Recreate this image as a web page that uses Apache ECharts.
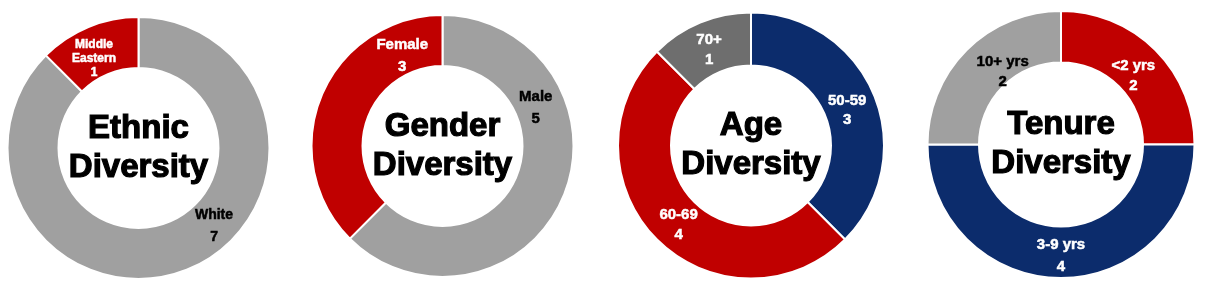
<!DOCTYPE html>
<html>
<head>
<meta charset="utf-8">
<script src="https://cdn.jsdelivr.net/npm/echarts@6/dist/echarts.min.js"></script>
<style>
html,body{margin:0;padding:0;background:#fff;}
#chart{width:1206px;height:285px;}
</style>
</head>
<body>
<div id="chart"></div>
<script>
// ---- data ----
const ethnicCategories = ['White', 'Middle Eastern'];
const ethnicValues = [7, 1];
const genderCategories = ['Male', 'Female'];
const genderValues = [5, 3];
const ageCategories = ['50-59', '60-69', '70+'];
const ageValues = [3, 4, 1];
const tenureCategories = ['<2 yrs', '3-9 yrs', '10+ yrs'];
const tenureValues = [2, 4, 2];
const chartTitles = ['Ethnic\nDiversity', 'Gender\nDiversity', 'Age\nDiversity', 'Tenure\nDiversity'];

// ---- styles ----
const RED = '#C00000', GREY = '#A0A0A0', DARK = '#6E6E6E', BLUE = '#0C2C6C';
const FONT = '"Liberation Sans", Arial, sans-serif';

const charts = [
  { cats: ethnicCategories, vals: ethnicValues, center: [138.5, 148], radius: [80, 131],
    colors: [GREY, RED], textColors: ['#000', '#fff'], offsets: [[34, -22], [-3, 11]],
    fontSizes: [14, 12], lineHeights: [22, 14] },
  { cats: genderCategories, vals: genderValues, center: [442.5, 146], radius: [80, 131],
    colors: [GREY, RED], textColors: ['#000', '#fff'], offsets: [[-7, -80], [60, -49]],
    fontSizes: [15, 15], lineHeights: [22, 22] },
  { cats: ageCategories, vals: ageValues, center: [751, 145.5], radius: [80, 133],
    colors: [BLUE, RED, DARK], textColors: ['#fff', '#fff', '#fff'], offsets: [[-5, 7], [5, 2], [0, 6]],
    fontSizes: [15, 15, 15], lineHeights: [19, 20, 20] },
  { cats: tenureCategories, vals: tenureValues, center: [1061, 144.5], radius: [82, 133.5],
    colors: [RED, BLUE, GREY], textColors: ['#fff', '#fff', '#000'], offsets: [[-6, 10], [0, 1], [20, 6]],
    fontSizes: [15, 15, 15], lineHeights: [20, 22, 20] }
];

const series = charts.map(function (c) {
  return {
    type: 'pie',
    center: c.center,
    radius: c.radius,
    startAngle: 90,
    clockwise: true,
    avoidLabelOverlap: false,
    silent: true,
    labelLine: { show: false },
    itemStyle: { borderColor: '#fff', borderWidth: 2 },
    data: c.cats.map(function (name, i) {
      return {
        name: name,
        value: c.vals[i],
        itemStyle: { color: c.colors[i] },
        label: {
          show: true,
          position: 'inside',
          offset: c.offsets[i],
          color: c.textColors[i],
          textBorderColor: c.textColors[i],
          textBorderWidth: 0.5,
          fontFamily: FONT,
          fontWeight: 'bold',
          fontSize: c.fontSizes[i],
          lineHeight: c.lineHeights[i],
          formatter: function (p) {
            const nm = p.name === 'Middle Eastern' ? 'Middle\nEastern' : p.name;
            return nm + '\n' + p.value;
          }
        }
      };
    })
  };
});

const graphic = charts.map(function (c, i) {
  return {
    type: 'text',
    x: c.center[0],
    y: c.center[1],
    silent: true,
    style: {
      text: chartTitles[i],
      font: 'bold 33px ' + FONT,
      fill: '#000',
      stroke: '#000',
      lineWidth: 1.2,
      align: 'center',
      verticalAlign: 'middle',
      lineHeight: 39
    }
  };
});

const chart = echarts.init(document.getElementById('chart'), null, { renderer: 'canvas' });
chart.setOption({
  animation: false,
  backgroundColor: '#fff',
  series: series,
  graphic: graphic
});
</script>
</body>
</html>
